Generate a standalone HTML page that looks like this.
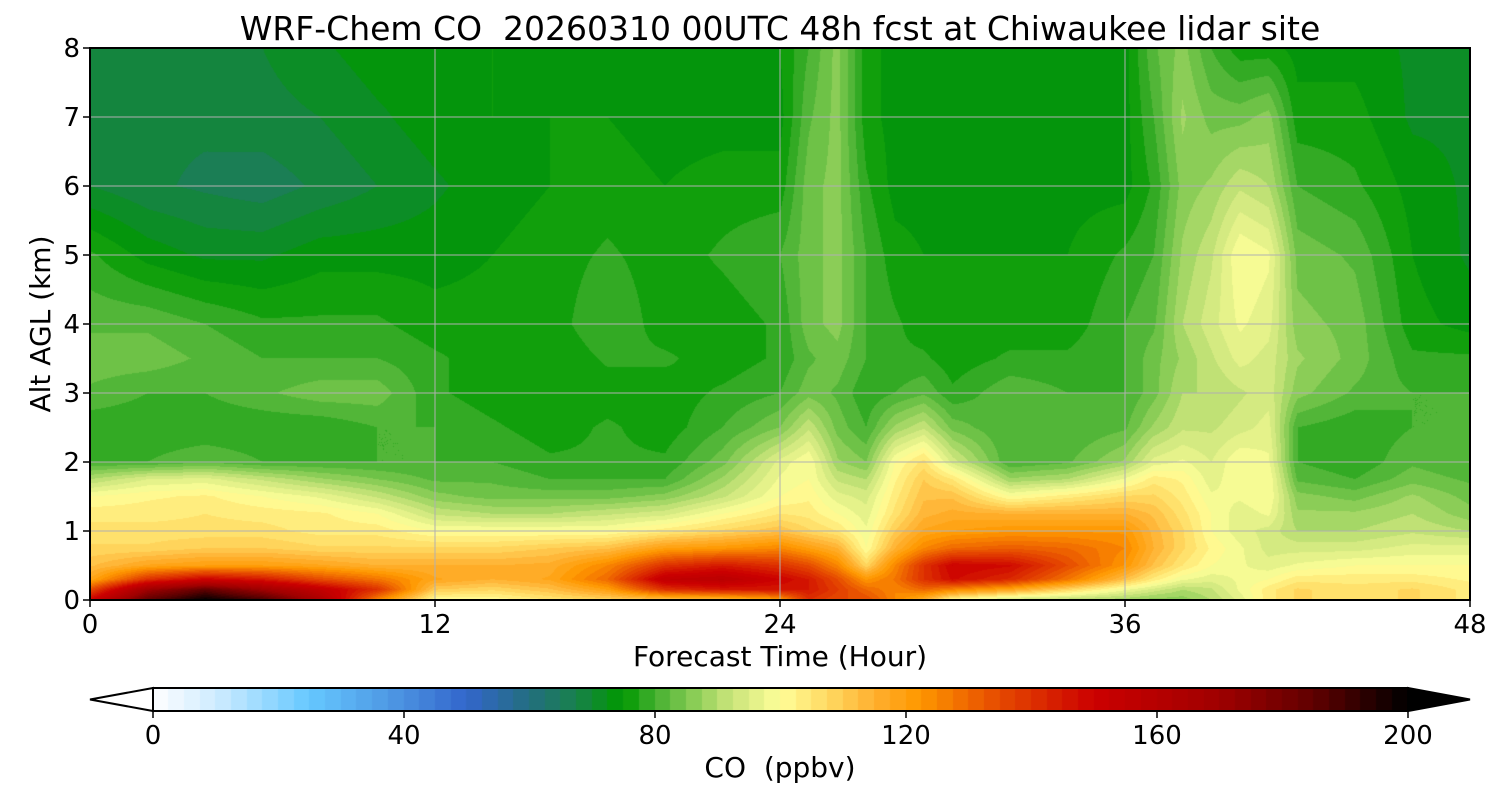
<!DOCTYPE html>
<html><head><meta charset="utf-8">
<style>
body{margin:0;background:#fff;}
#wrap{position:relative;width:1500px;height:800px;overflow:hidden;font-family:"DejaVu Sans","Liberation Sans",sans-serif;}
#field{position:absolute;left:90px;top:48px;}
#cb{position:absolute;left:153px;top:688px;}
svg{position:absolute;left:0;top:0;font-family:"DejaVu Sans","Liberation Sans",sans-serif;}
</style></head>
<body>
<div id="wrap">
<canvas id="field" width="1380" height="552"></canvas>
<canvas id="cb" width="1255" height="23"></canvas>
<svg id="ov" width="1500" height="800"></svg>
</div>
<script>
const times=[0,2,4,6,8,10,12,14,16,18,20,22,24,25,26,27,28,29,30,32,34,36,37,38,39,40,41,42,44,46,48];
const alts=[0,0.15,0.3,0.5,0.75,1,1.25,1.5,1.75,2,2.5,3,3.5,4,5,6,7,8];
const co=[
[150,135,118,112,108,106,104,100,90,80,78,82,84,82,78,70,68,68],
[185,170,140,118,108,106,104,102,95,80,78,80,84,82,74,68,68,70],
[200,185,150,120,110,106,105,103,96,82,78,80,82,80,72,67,68,70],
[190,170,145,120,110,106,104,100,92,80,78,82,80,78,72,66,69,70],
[165,155,135,118,108,104,103,97,88,80,78,84,80,78,74,68,70,72],
[125,140,128,115,108,104,100,92,85,80,80,84,80,78,74,70,72,74],
[100,110,118,115,108,100,92,86,82,80,80,78,78,76,74,72,74,74],
[100,108,115,115,108,100,90,84,82,80,78,76,76,76,75,74,75,75],
[105,112,118,116,110,100,90,84,80,78,76,75,75,76,76,75,75,74],
[108,120,130,125,112,100,92,84,80,78,78,76,78,80,78,76,75,74],
[110,140,155,140,120,104,94,86,80,78,76,76,78,76,76,75,74,74],
[112,145,158,145,122,108,100,92,88,84,80,78,76,76,78,76,74,74],
[120,145,150,140,125,112,105,100,98,96,85,80,78,78,80,76,74,75],
[140,145,145,135,120,108,104,102,100,100,92,84,82,84,84,84,82,80],
[135,138,135,125,115,105,100,96,92,88,84,82,84,86,86,86,86,86],
[135,130,122,108,100,98,96,94,90,85,80,78,80,80,80,78,76,76],
[125,125,128,125,115,110,106,104,102,100,88,80,78,78,76,74,74,74],
[115,130,140,140,125,118,114,112,110,106,92,82,78,76,75,74,74,74],
[100,125,148,150,130,120,116,112,105,94,84,78,76,76,75,74,74,74],
[92,118,142,148,132,122,115,100,88,80,80,82,78,76,75,74,74,74],
[90,108,128,135,130,122,115,104,90,82,80,80,78,76,75,74,74,74],
[88,98,112,122,125,122,115,108,98,88,82,80,80,80,78,74,74,74],
[86,94,104,112,115,114,112,108,104,96,88,84,84,82,80,78,80,82],
[86,90,98,105,108,108,106,104,102,98,92,90,88,90,88,86,88,86],
[90,92,96,100,102,100,100,98,96,95,92,90,92,94,92,88,84,80],
[96,98,98,98,98,96,96,98,100,100,94,92,96,98,100,92,84,76],
[104,104,100,96,94,94,98,100,100,98,96,94,94,96,98,90,86,76],
[108,108,104,98,94,90,88,86,82,80,80,86,88,86,84,80,76,74],
[106,106,104,100,94,90,88,84,80,78,78,82,84,84,82,78,76,74],
[108,108,104,100,96,92,90,88,84,82,80,80,78,76,75,74,72,72],
[104,104,102,100,96,90,86,84,82,80,80,80,78,74,72,72,72,72]
];
const xTicks=[0,12,24,36,48];
const yTicks=[0,1,2,3,4,5,6,7,8];
const cbTicks=[0,40,80,120,160,200];
const cmapVals=[0,10,25,40,50,60,67,75,80,86,92,100,108,115,122,135,150,170,185,200];
const cmapCols=['#ffffff','#d0ecff','#66c8ff','#4a90e0','#3366cc','#236e80','#1a8050','#009900','#44b030','#88cc55','#c8e47a','#ffff99','#ffd860','#ffb030','#ff9900','#e64a00','#cc0000','#a00000','#600000','#000000'];

const X0=90,X1=1470,Y0=600,Y1=48;
const xs=t=>X0+(t-0)/48*(X1-X0);
const ys=a=>Y0-(a/8)*(Y0-Y1);
function hex(c){return [parseInt(c.substr(1,2),16),parseInt(c.substr(3,2),16),parseInt(c.substr(5,2),16)];}
const cmapRGB=cmapCols.map(hex);
function color(v){
  v=Math.max(0,Math.min(200,v));
  for(let i=0;i<cmapVals.length-1;i++){
    if(v<=cmapVals[i+1]){const f=(v-cmapVals[i])/(cmapVals[i+1]-cmapVals[i]);
      const a=cmapRGB[i],b=cmapRGB[i+1];
      return [a[0]+(b[0]-a[0])*f,a[1]+(b[1]-a[1])*f,a[2]+(b[2]-a[2])*f];}
  }
  return [0,0,0];
}
const STEP=2.5;
function quant(v){return Math.floor(v/STEP)*STEP+STEP/2;}
function findIdx(arr,v){let i=0;while(i<arr.length-2&&v>arr[i+1])i++;return i;}
function sample(t,a){
  const i=findIdx(times,t),j=findIdx(alts,a);
  const ft=Math.max(0,Math.min(1,(t-times[i])/(times[i+1]-times[i])));
  const fa=Math.max(0,Math.min(1,(a-alts[j])/(alts[j+1]-alts[j])));
  const v00=co[i][j],v10=co[i+1][j],v01=co[i][j+1],v11=co[i+1][j+1];
  return v00*(1-ft)*(1-fa)+v10*ft*(1-fa)+v01*(1-ft)*fa+v11*ft*fa;
}
const fc=document.getElementById('field'),fx=fc.getContext('2d');
const W=fc.width,H=fc.height,img=fx.createImageData(W,H);
for(let py=0;py<H;py++){
  const a=(H-py-0.5)/H*8;
  for(let px=0;px<W;px++){
    const t=(px+0.5)/W*48;
    const c=color(quant(sample(t,a)));
    const k=(py*W+px)*4;img.data[k]=c[0];img.data[k+1]=c[1];img.data[k+2]=c[2];img.data[k+3]=255;
  }
}
fx.putImageData(img,0,0);
const cc=document.getElementById('cb'),cx=cc.getContext('2d');
for(let v=0;v<200;v+=STEP){
  const c=color(v+STEP/2);cx.fillStyle=`rgb(${c[0]|0},${c[1]|0},${c[2]|0})`;
  const x0=Math.floor(v/200*1255),x1=Math.ceil((v+STEP)/200*1255);
  cx.fillRect(x0,0,x1-x0,23);
}
const NS='http://www.w3.org/2000/svg',ov=document.getElementById('ov');
function el(tag,attrs,txt){const e=document.createElementNS(NS,tag);for(const k in attrs)e.setAttribute(k,attrs[k]);if(txt!==undefined)e.textContent=txt;ov.appendChild(e);return e;}
xTicks.forEach(t=>{
  const g=el('line',{x1:xs(t),x2:xs(t),y1:Y1,y2:Y0,stroke:'#b0b0b0','stroke-width':1});
  
  
  const tk=el('line',{x1:xs(t),x2:xs(t),y1:Y0,y2:Y0+7,stroke:'#000','stroke-width':1.5});
  
  
  const l=el('text',{x:xs(t),y:Y0+33,'font-size':26,'text-anchor':'middle'},String(t));
  
  
});
yTicks.forEach(a=>{
  const g=el('line',{x1:X0,x2:X1,y1:ys(a),y2:ys(a),stroke:'#b0b0b0','stroke-width':1});
  
  
  const tk=el('line',{x1:X0-7,x2:X0,y1:ys(a),y2:ys(a),stroke:'#000','stroke-width':1.5});
  
  
  const l=el('text',{x:X0-10,y:ys(a)+9,'font-size':26,'text-anchor':'end'},String(a));
  
  
});
const fr=el('rect',{x:X0,y:Y1,width:X1-X0,height:Y0-Y1,fill:'none',stroke:'#000','stroke-width':2});


const ti=el('text',{x:780,y:40,'font-size':33,'text-anchor':'middle'},'WRF-Chem CO  20260310 00UTC 48h fcst at Chiwaukee lidar site');


ti.style.whiteSpace='pre';
const xl=el('text',{x:780,y:666,'font-size':28,'text-anchor':'middle'},'Forecast Time (Hour)');


const yl=el('text',{x:0,y:0,'font-size':28,'text-anchor':'middle',transform:'translate(50,324) rotate(-90)'},'Alt AGL (km)');


const lt=el('polygon',{points:'153,688 90,699.5 153,711',fill:'#fff',stroke:'#000','stroke-width':2});


const rt=el('polygon',{points:'1408,688 1470,699.5 1408,711',fill:'#000',stroke:'#000','stroke-width':2});


const cbf=el('rect',{x:153,y:688,width:1255,height:23,fill:'none',stroke:'#000','stroke-width':2});


cbTicks.forEach(v=>{
  const x=153+v/200*1255;
  const tk=el('line',{x1:x,x2:x,y1:711,y2:718,stroke:'#000','stroke-width':1.5});
  
  
  const l=el('text',{x:x,y:744,'font-size':26,'text-anchor':'middle'},String(v));
  
  
});
const cl=el('text',{x:780,y:777,'font-size':28,'text-anchor':'middle'},'CO  (ppbv)');


cl.style.whiteSpace='pre';
</script>
</body></html>
